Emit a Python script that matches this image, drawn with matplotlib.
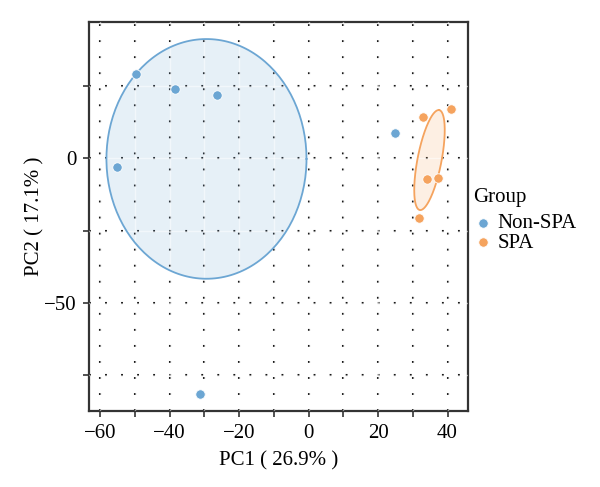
import matplotlib.pyplot as plt
import numpy as np

# PCA scores
non_spa_x = [-49.7, -38.4, -26.5, -55.1, 25.0, -31.3]
non_spa_y = [29.2, 23.9, 21.8, -3.1, 8.7, -81.5]
spa_x = [32.8, 40.9, 34.0, 37.2, 31.8]
spa_y = [14.2, 17.0, -7.3, -6.8, -20.6]

# ellipses: centre, first semi-axis vector, second semi-axis vector (data units)
non_spa_ell = [(-29.4, -0.2), (28.8, 0.0), (0.0, 41.5)]
spa_ell = [(34.8, -0.6), (2.79, 17.3), (3.39, -0.79)]

xticks = [-60, -40, -20, 0, 20, 40]
xminor = [-50, -30, -10, 10, 30]
yticks = [-50, 0]
yminor = [-75, -25, 25]

blue = '#6CA6D3'
orange = '#F5A35E'

plt.rcParams['font.family'] = ['Liberation Serif', 'DejaVu Serif']

fig = plt.figure(figsize=(6, 4.87), dpi=100)
ax = fig.add_axes([0.149, 0.156, 0.6305, 0.7994])
ax.set_xlim(-63.1, 45.8)
ax.set_ylim(-87.5, 47.3)

# dotted grid
for gx in range(-60, 41, 10):
    ax.axvline(gx, color='black', lw=1.5, linestyle=(0, (0.9, 6.8)), zorder=1)
for gy in range(-75, 26, 25):
    ax.axhline(gy, color='black', lw=1.5, linestyle=(0, (0.9, 6.8)), zorder=1)


def draw_ellipse(ell, col):
    t = np.linspace(0, 2 * np.pi, 200)
    c, a, b = ell
    ex = c[0] + np.cos(t) * a[0] + np.sin(t) * b[0]
    ey = c[1] + np.cos(t) * a[1] + np.sin(t) * b[1]
    ax.fill(ex, ey, color=col, alpha=0.17, lw=0, zorder=2)
    ax.plot(ex, ey, color=col, lw=1.3, zorder=4)


draw_ellipse(non_spa_ell, blue)
draw_ellipse(spa_ell, orange)

# faint light grid over the fills
for gx in range(-60, 41, 10):
    ax.axvline(gx, color='white', lw=1.0, alpha=0.5, zorder=3)
for gy in range(-75, 26, 25):
    ax.axhline(gy, color='white', lw=1.0, alpha=0.5, zorder=3)

ax.scatter(non_spa_x, non_spa_y, s=46, color=blue, edgecolor='white', lw=0.6, zorder=5, label='Non-SPA')
ax.scatter(spa_x, spa_y, s=46, color=orange, edgecolor='white', lw=0.6, zorder=5, label='SPA')

ax.set_xticks(xticks)
ax.set_xticklabels(['\u2212' + str(-v) if v < 0 else str(v) for v in xticks])
ax.set_xticks(xminor, minor=True)
ax.set_yticks(yticks)
ax.set_yticklabels(['\u2212' + str(-v) if v < 0 else str(v) for v in yticks])
ax.set_yticks(yminor, minor=True)
ax.tick_params(which='both', direction='out', length=4, width=1.2, color='#333333',
               labelsize=15, labelcolor='black', pad=5)
for sp in ax.spines.values():
    sp.set_linewidth(1.6)
    sp.set_color('#333333')

ax.set_xlabel('PC1 ( 26.9% )', fontsize=15, labelpad=6)
ax.set_ylabel('PC2 ( 17.1% )', fontsize=15, labelpad=0)

leg = ax.legend(title='Group', loc='center left', bbox_to_anchor=(0.975, 0.49),
                frameon=False, fontsize=15, title_fontsize=15, handletextpad=0.2,
                labelspacing=0.0, borderaxespad=0.3, handlelength=1.0, markerscale=1.0)
leg._legend_box.align = 'left'
leg._legend_box.sep = 5

fig.savefig('out.png', dpi=100)
